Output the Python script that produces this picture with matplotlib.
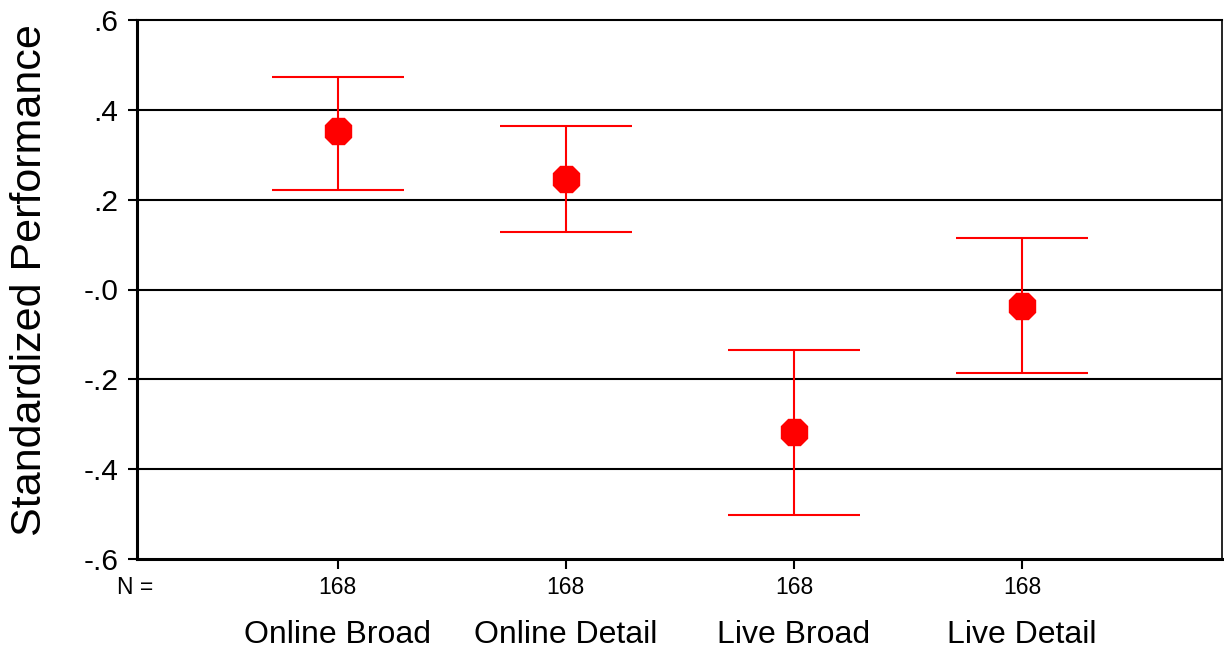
import matplotlib.pyplot as plt
import matplotlib.transforms as mtransforms

plt.rcParams["font.family"] = ["Liberation Sans", "DejaVu Sans"]

categories = ["Online Broad", "Online Detail", "Live Broad", "Live Detail"]
means = [0.352, 0.246, -0.317, -0.037]
upper = [0.474, 0.363, -0.134, 0.114]
lower = [0.221, 0.128, -0.501, -0.186]
n_values = [168, 168, 168, 168]
y_ticks = [0.6, 0.4, 0.2, 0.0, -0.2, -0.4, -0.6]
y_tick_labels = [".6", ".4", ".2", "-.0", "-.2", "-.4", "-.6"]

fig = plt.figure(figsize=(12.24, 6.52), dpi=100)
ax = fig.add_axes([137 / 1224, 1 - 559 / 652, 1085 / 1224, 539 / 652])

x = list(range(1, len(categories) + 1))
err_low = [m - lo for m, lo in zip(means, lower)]
err_high = [hi - m for m, hi in zip(means, upper)]

# grid lines
for t in y_ticks[1:-1]:
    ax.axhline(t, color="black", lw=1.5, zorder=1)

ax.errorbar(x, means, yerr=[err_low, err_high], fmt="8", color="#ff0000",
            ecolor="#ff0000", elinewidth=1.5, capsize=47.5, capthick=1.5,
            markersize=21, zorder=3)

ax.set_xlim(0.12, 4.877)
ax.set_ylim(-0.6, 0.6)
ax.set_yticks(y_ticks)
ax.set_yticklabels(y_tick_labels, fontsize=21.5)
ax.tick_params(axis="y", length=6.5, width=1.5, pad=7)
ax.set_xticks(x)
ax.set_xticklabels([])
ax.tick_params(axis="x", length=7, width=1.5)

ax.spines["left"].set_linewidth(2.2)
ax.spines["bottom"].set_linewidth(2.2)
ax.spines["top"].set_linewidth(1.5)
ax.spines["right"].set_linewidth(1.2)

trans = mtransforms.blended_transform_factory(ax.transData, ax.transAxes)
for xi, n, cat in zip(x, n_values, categories):
    ax.text(xi, -0.052, str(n), transform=trans, ha="center", va="center",
            fontsize=16.5)
    ax.text(xi, -0.141, cat, transform=trans, ha="center", va="center",
            fontsize=23)
ax.text(-0.002, -0.052, "N =", transform=ax.transAxes, ha="center",
        va="center", fontsize=16.5)

fig.text(30 / 1224, 1 - 280 / 652, "Standardized Performance", rotation=90,
         ha="center", va="center", fontsize=31)

fig.savefig("out.png", dpi=100)
